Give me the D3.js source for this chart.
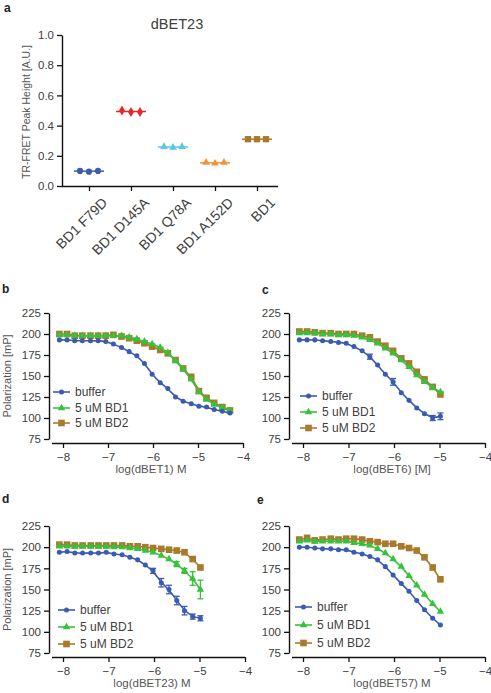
<!DOCTYPE html>
<html><head><meta charset="utf-8">
<script src="https://cdn.jsdelivr.net/npm/d3@7"></script>
<style>
body{margin:0;background:#fff;}
svg{display:block;font-family:"Liberation Sans",Arial,sans-serif;}
</style></head>
<body><svg id="chart" width="491" height="693"></svg>
<script>
// ---------- Panel a data ----------
const aCategories = ["BD1 F79D", "BD1 D145A", "BD1 Q78A", "BD1 A152D", "BD1"];
const aReplicates = [
  [0.100, 0.095, 0.100],
  [0.500, 0.490, 0.490],
  [0.260, 0.255, 0.260],
  [0.155, 0.150, 0.155],
  [0.310, 0.310, 0.310]
];
const aYTicks = [0.0, 0.2, 0.4, 0.6, 0.8, 1.0];

// ---------- Concentration series (log M) ----------
const logConc = [-8.08, -7.91, -7.74, -7.57, -7.39, -7.22, -7.05, -6.88, -6.70, -6.53,
                 -6.36, -6.19, -6.02, -5.84, -5.67, -5.50, -5.33, -5.15, -4.98,
                 -4.81, -4.64, -4.46, -4.29];
const xTicks = [-8, -7, -6, -5, -4];
const yTicks = [75, 100, 125, 150, 175, 200, 225];
const seriesNames = ["buffer", "5 uM BD1", "5 uM BD2"];

// panel b (dBET1), 23 points
const bBuffer = [193, 193, 192, 192, 192, 192, 191, 188, 184, 179, 174, 165, 152, 142, 135, 125, 120, 117, 114, 113, 110, 108, 106];
const bBD1    = [199, 199, 198, 198, 198, 198, 198, 198, 198, 196, 194, 191, 188, 184, 178, 168, 158, 146, 131, 122, 116, 112, 109];
const bBD2    = [200, 200, 198, 198, 198, 198, 198, 199, 197, 195, 192, 189, 185, 181, 177, 169, 159, 149, 132, 124, 118, 113, 109];

// panel c (dBET6), 19 points
const cBuffer = [193, 193, 193, 192, 191, 190, 189, 185, 180, 173, 163, 152, 143, 130, 121, 112, 105, 100, 102];
const cBD1    = [201, 201, 201, 200, 200, 199, 199, 198, 196, 193, 189, 183, 177, 169, 161, 151, 143, 136, 131];
const cBD2    = [203, 203, 202, 201, 201, 200, 200, 200, 198, 196, 191, 186, 180, 171, 165, 155, 146, 137, 128];
const cBufferErr = [0, 0, 0, 0, 0, 0, 0, 0, 0, 3, 0, 0, 4, 0, 0, 0, 0, 3, 4];

// panel d (dBET23), 19 points
const dBuffer = [194, 195, 193, 193, 193, 193, 194, 192, 191, 188, 185, 179, 172, 158, 150, 137, 125, 118, 116];
const dBD1    = [201, 201, 201, 201, 201, 201, 201, 200, 200, 199, 198, 196, 194, 190, 186, 180, 172, 163, 150];
const dBD2    = [203, 203, 202, 202, 202, 202, 202, 202, 202, 201, 201, 200, 199, 198, 197, 196, 194, 186, 176];
const dBufferErr = [0, 0, 0, 0, 0, 0, 0, 0, 0, 0, 0, 0, 3, 5, 5, 5, 5, 3, 3];
const dBD1Err    = [0, 0, 0, 0, 0, 0, 0, 0, 0, 0, 0, 0, 0, 0, 0, 3, 3, 8, 11];

// panel e (dBET57), 19 points
const eBuffer = [200, 200, 199, 198, 198, 197, 197, 194, 192, 189, 185, 177, 167, 157, 148, 137, 126, 116, 108];
const eBD1    = [207, 208, 207, 207, 207, 207, 207, 205, 204, 202, 198, 193, 186, 177, 166, 155, 144, 133, 124];
const eBD2    = [209, 211, 208, 209, 210, 209, 210, 210, 209, 207, 206, 204, 204, 201, 199, 196, 188, 176, 162];

// ---------- styles ----------
const COL = {blue: "#3a5bb0", green: "#36c23a", brown: "#a97a2c", red: "#e8262b", cyan: "#58c8e6", orange: "#f3923a"};
const textCol = "#404040";

const svg = d3.select("#chart");

function letter(txt, x, y) {
  svg.append("text").attr("x", x).attr("y", y).attr("font-size", 12).attr("font-weight", "bold")
    .attr("fill", "#222").text(txt);
}

function styleAxis(g) {
  g.selectAll("path.domain").attr("stroke", "#111").attr("stroke-width", 1.4);
  g.selectAll(".tick line").attr("stroke", "#111").attr("stroke-width", 1.3);
  g.selectAll(".tick text").attr("fill", textCol).attr("font-size", 11.5)
    .attr("font-family", "Liberation Sans, Arial, sans-serif");
}

function marker(type, size) {
  const sym = type === "circle" ? d3.symbolCircle : type === "triangle" ? d3.symbolTriangle :
              type === "square" ? d3.symbolSquare : type === "diamond" ? d3.symbolDiamond : d3.symbolCircle;
  return d3.symbol().type(sym).size(size)();
}

// ---------- Panel a ----------
letter("a", 4, 12);
(function () {
  const x = d3.scalePoint().domain(aCategories).range([89, 257]);
  const y = d3.scaleLinear().domain([0, 1]).range([186, 35]);
  const cols = [COL.blue, COL.red, COL.cyan, COL.orange, COL.brown];
  const shapes = ["circle", "diamond", "triangle", "triangle", "square"];
  const sizes = [30, 30, 26, 26, 40];
  const offs = [-9, 0, 9];

  const gy = svg.append("g").attr("transform", "translate(62,0)")
    .call(d3.axisLeft(y).tickValues(aYTicks).tickFormat(d3.format(".1f")).tickSize(5).tickSizeOuter(0));
  styleAxis(gy);
  const gx = svg.append("g").attr("transform", "translate(0,186)")
    .call(d3.axisBottom(x).tickSize(5).tickSizeOuter(0));
  gx.select("path.domain").attr("d", "M62,0.5H278");
  styleAxis(gx);
  gx.selectAll(".tick text").attr("text-anchor", "end").attr("font-size", 14)
    .attr("transform", "translate(7,6) rotate(-45)").attr("dy", "0.6em").attr("dx", "0");

  aCategories.forEach((c, i) => {
    const vals = aReplicates[i];
    const m = d3.mean(vals);
    svg.append("line").attr("x1", x(c) - 15).attr("x2", x(c) + 15)
      .attr("y1", y(m)).attr("y2", y(m)).attr("stroke", cols[i]).attr("stroke-width", 1.5);
    vals.forEach((v, j) => {
      svg.append("path").attr("d", marker(shapes[i], sizes[i]))
        .attr("transform", `translate(${x(c) + offs[j]},${y(v)})`).attr("fill", cols[i]);
    });
  });

  svg.append("text").attr("x", 177).attr("y", 29).attr("text-anchor", "middle")
    .attr("font-size", 14.5).attr("fill", textCol).text("dBET23");
  svg.append("text").attr("transform", "translate(30,112) rotate(-90)").attr("text-anchor", "middle")
    .attr("font-size", 10.5).attr("fill", "#555").text("TR-FRET Peak Height [A.U.]");
})();

// ---------- Curve panels ----------
function curvePanel(cfg) {
  const n = cfg.series[0].length;
  const xs = logConc.slice(0, n);
  const x = d3.scaleLinear().domain([-8, -4]).range([cfg.x0, cfg.x1]);
  const y = d3.scaleLinear().domain([75, 225]).range([cfg.yb, cfg.yt]);

  const gy = svg.append("g").attr("transform", `translate(${cfg.ax},0)`)
    .call(d3.axisLeft(y).tickValues(yTicks).tickSize(5).tickSizeOuter(0));
  styleAxis(gy);
  const gx = svg.append("g").attr("transform", `translate(0,${cfg.yb + 4})`)
    .call(d3.axisBottom(x).tickValues(xTicks).tickFormat(d3.format("d")).tickSize(5).tickSizeOuter(0));
  gx.select("path.domain").attr("d", `M${cfg.ax + 3},0.5H${cfg.x1}`);
  styleAxis(gx);
  gx.selectAll(".tick text").attr("dy", "0.9em");

  svg.append("text").attr("x", (cfg.x0 + cfg.x1) / 2 - 2).attr("y", cfg.yb + 34)
    .attr("text-anchor", "middle").attr("font-size", 11.5).attr("fill", "#555").text(cfg.xTitle);
  if (cfg.yTitle) {
    svg.append("text").attr("transform", `translate(11,${(cfg.yb + cfg.yt) / 2}) rotate(-90)`)
      .attr("text-anchor", "middle").attr("font-size", 11).attr("fill", "#555").text(cfg.yTitle);
  }

  const cols = [COL.blue, COL.green, COL.brown];
  const shapes = ["circle", "triangle", "square"];
  const sizes = [20, 24, 44];
  const line = d3.line().x(d => x(d[0])).y(d => y(d[1])).curve(d3.curveBasis);

  // draw order: BD2, BD1, buffer
  [2, 1, 0].forEach(si => {
    const vals = cfg.series[si];
    const pts = xs.map((xv, i) => [xv, vals[i]]);
    svg.append("path").attr("d", line(pts)).attr("fill", "none")
      .attr("stroke", cols[si]).attr("stroke-width", 1.6);
    const errs = cfg.errs && cfg.errs[si];
    if (errs) {
      pts.forEach((p, i) => {
        if (!errs[i]) return;
        const px = x(p[0]);
        const g = svg.append("g").attr("stroke", cols[si]).attr("stroke-width", 1.3);
        g.append("line").attr("x1", px).attr("x2", px).attr("y1", y(p[1] - errs[i])).attr("y2", y(p[1] + errs[i]));
        g.append("line").attr("x1", px - 3).attr("x2", px + 3).attr("y1", y(p[1] - errs[i])).attr("y2", y(p[1] - errs[i]));
        g.append("line").attr("x1", px - 3).attr("x2", px + 3).attr("y1", y(p[1] + errs[i])).attr("y2", y(p[1] + errs[i]));
      });
    }
    pts.forEach(p => {
      svg.append("path").attr("d", marker(shapes[si], sizes[si]))
        .attr("transform", `translate(${x(p[0])},${y(p[1])})`).attr("fill", cols[si]);
    });
  });

  // legend
  seriesNames.forEach((nm, i) => {
    const ly = cfg.legY[i];
    svg.append("line").attr("x1", cfg.legX).attr("x2", cfg.legX + 17).attr("y1", ly).attr("y2", ly)
      .attr("stroke", cols[i]).attr("stroke-width", 1.6);
    svg.append("path").attr("d", marker(shapes[i], sizes[i]))
      .attr("transform", `translate(${cfg.legX + 8.5},${ly})`).attr("fill", cols[i]);
    svg.append("text").attr("x", cfg.legX + 22).attr("y", ly + 4).attr("font-size", 12)
      .attr("fill", textCol).text(nm);
  });
}

letter("b", 2, 293);
curvePanel({ax: 49, x0: 63, x1: 243, yb: 439, yt: 313, xTitle: "log(dBET1) M", yTitle: "Polarization [mP]",
  series: [bBuffer, bBD1, bBD2], legX: 53, legY: [392, 408, 423]});
letter("c", 262, 294);
curvePanel({ax: 289, x0: 303, x1: 485, yb: 439, yt: 313, xTitle: "log(dBET6) [M]", yTitle: null,
  series: [cBuffer, cBD1, cBD2], errs: [cBufferErr, null, null], legX: 300, legY: [396, 412, 428]});
letter("d", 2, 503);
curvePanel({ax: 49, x0: 63, x1: 245, yb: 653, yt: 526, xTitle: "log(dBET23) M", yTitle: "Polarization [mP]",
  series: [dBuffer, dBD1, dBD2], errs: [dBufferErr, dBD1Err, null], legX: 58, legY: [610, 627, 644]});
letter("e", 257, 504);
curvePanel({ax: 289, x0: 303, x1: 485, yb: 653, yt: 526, xTitle: "log(dBET57) M", yTitle: null,
  series: [eBuffer, eBD1, eBD2], legX: 295, legY: [607, 625, 643]});
</script></body></html>
